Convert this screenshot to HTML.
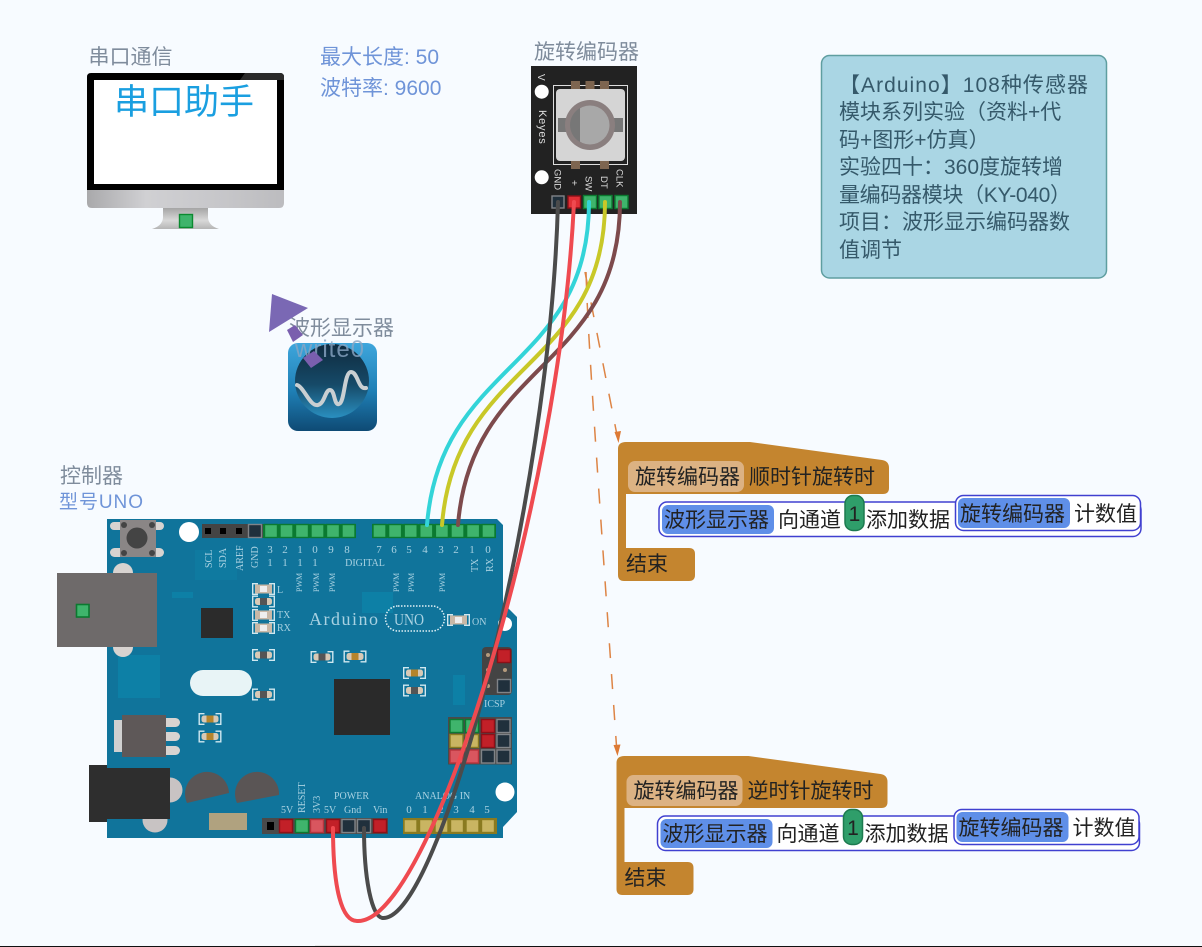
<!DOCTYPE html>
<html lang="zh"><head><meta charset="utf-8"><title>旋转编码器</title>
<style>
html,body{margin:0;padding:0;background:#f7fbff;width:1202px;height:947px;overflow:hidden}
svg{display:block}
text{font-family:"Liberation Sans","Noto Sans CJK SC",sans-serif}
.lb{font-size:21px;fill:#7f8c9c}
.bl{font-size:21px;fill:#6f94d8}
.bk{font-size:21px;fill:#222}
.info{font-size:21px;fill:#35596a}
.sf{font-family:"Liberation Serif","Noto Serif CJK SC",serif;fill:#a9d2e2;font-size:11px}
.pw{font-family:"Liberation Serif",serif;fill:#a9d2e2;font-size:10px}
.kt{font-size:10px;fill:#ddd}
</style></head><body>
<svg xmlns="http://www.w3.org/2000/svg" width="1202" height="947" viewBox="0 0 1202 947">
<defs>
<linearGradient id="silver" x1="0" x2="1" y1="0" y2="0"><stop offset="0" stop-color="#a9a9ab"/><stop offset=".3" stop-color="#d0d0d3"/><stop offset=".7" stop-color="#c6c6c9"/><stop offset="1" stop-color="#bcbcbf"/></linearGradient>
<linearGradient id="stand" x1="0" x2="0" y1="0" y2="1"><stop offset="0" stop-color="#a5a5a5"/><stop offset=".6" stop-color="#d8d8d8"/><stop offset="1" stop-color="#b5b5b5"/></linearGradient>
<linearGradient id="ico" x1="0" x2="0" y1="0" y2="1"><stop offset="0" stop-color="#3ea6dc"/><stop offset=".55" stop-color="#1f7fb5"/><stop offset="1" stop-color="#0e4a74"/></linearGradient>
<linearGradient id="scr" x1="0" x2="0" y1="0" y2="1"><stop offset="0" stop-color="#0f2a3e"/><stop offset=".55" stop-color="#164a68"/><stop offset="1" stop-color="#2a8fc0"/></linearGradient>
<g id="capB"><path d="M6 .7H.7V11.3H6M17 .7h5.3V11.3H17" fill="none" stroke="#cfe8f0" stroke-width="1.4"/><rect x="3" y="2.5" width="17" height="7" rx="2.5" fill="#d8c9b6"/><rect x="8" y="2.5" width="7" height="7" fill="#b5842c"/></g>
<g id="capD"><path d="M6 .7H.7V11.3H6M17 .7h5.3V11.3H17" fill="none" stroke="#cfe8f0" stroke-width="1.4"/><rect x="3" y="2.5" width="17" height="7" rx="2.5" fill="#d8c9b6"/><rect x="8" y="2.5" width="7" height="7" fill="#555"/></g>
<g id="capW"><path d="M6 .7H.7V11.3H6M17 .7h5.3V11.3H17" fill="none" stroke="#cfe8f0" stroke-width="1.4"/><rect x="3" y="1.5" width="17" height="9" fill="#c9b8a6"/><rect x="8" y="3" width="7" height="6" fill="#eee"/></g>
<rect id="pG" width="13" height="13" fill="#3fb46c" stroke="#0b7a30" stroke-width="1.4"/>
<rect id="pY" width="13" height="13" fill="#c9b562" stroke="#8a7a20" stroke-width="1.4"/>
<rect id="pR" width="13" height="13" fill="#c22028" stroke="#8c1018" stroke-width="1.4"/>
<rect id="pP" width="13" height="13" fill="#d9565f" stroke="#b8333c" stroke-width="1.4"/>
<rect id="pN" width="13" height="13" fill="#20303c" stroke="#808488" stroke-width="1.4"/>
<g id="hat"><path d="M626 442H750L882 460Q889 461 889 468V488Q889 494 883 494H626V548H689Q695 548 695 554V575Q695 581 689 581H624Q618 581 618 575V449Q618 442 626 442Z" fill="#c4852f"/>
<rect x="628" y="461" width="116" height="31" rx="7" fill="#dcb283"/>
<text class="bk" x="635" y="484">旋转编码器</text>
<text class="bk" x="626" y="571">结束</text>
<rect x="659" y="502" width="482" height="34.500" rx="8" fill="#fff" stroke="#4040d0" stroke-width="1.5"/>
<rect x="662" y="505" width="112" height="29" rx="6" fill="#5f8fe8"/>
<text class="bk" x="664" y="527">波形显示器</text>
<text class="bk" x="778" y="527">向通道</text>
<rect x="845" y="495.500" width="19" height="35" rx="8" fill="#2f9e6a" stroke="#1d7a4f" stroke-width="1.5"/>
<text class="bk" x="854.500" y="521" text-anchor="middle">1</text>
<text class="bk" x="866" y="527">添加数据</text>
<rect x="955.500" y="495.500" width="185" height="35" rx="8" fill="#fff" stroke="#4040d0" stroke-width="1.5"/>
<rect x="958" y="498" width="112" height="30" rx="6" fill="#5f8fe8"/>
<text class="bk" x="960" y="521">旋转编码器</text>
<text class="bk" x="1074" y="521">计数值</text></g>
</defs>
<rect width="1202" height="947" fill="#f7fbff"/>
<rect x="0" y="946" width="1202" height="1" fill="#111"/>
<rect x="315" y="945" width="45" height="1" fill="#e8e8e8"/>

<!-- monitor -->
<text class="lb" x="88.500" y="64">串口通信</text>
<text class="bl" x="320" y="64">最大长度: 50</text>
<text class="bl" x="320" y="95">波特率: 9600</text>
<path d="M163 208H208V218Q209 226 219 229H152Q162 226 163 218Z" fill="url(#stand)"/>
<path d="M87 190H284V203Q284 208 279 208H92Q87 208 87 203Z" fill="url(#silver)"/>
<path d="M91 73H280Q284 73 284 77V190H87V77Q87 73 91 73Z" fill="#000"/>
<path d="M245 73H280Q284 73 284 77V80H240Z" fill="#2a2a2a"/>
<rect x="94" y="80" width="183" height="104" fill="#fff"/>
<rect x="179.500" y="214.500" width="13" height="13" fill="#3fb46c" stroke="#0b8a30" stroke-width="1.4"/>
<text x="114" y="114" font-size="35" fill="#1a9fe0">串口助手</text>

<!-- rotary encoder -->
<text class="lb" x="534" y="59">旋转编码器</text>
<rect x="531" y="66" width="106" height="148" fill="#222"/>
<rect x="553.500" y="85.500" width="74" height="79" fill="none" stroke="#ddd" stroke-width="1"/>
<g fill="#7d6550"><rect x="571" y="81" width="9" height="9"/><rect x="585.500" y="81" width="9" height="9"/><rect x="600" y="81" width="9" height="9"/><rect x="571" y="160" width="9" height="9"/><rect x="600" y="160" width="9" height="9"/></g>
<rect x="556" y="89" width="69" height="72" rx="4" fill="#d5d5d5"/>
<rect x="558" y="118" width="65" height="14" fill="#777"/>
<circle cx="590" cy="125" r="25" fill="#8a7f7f"/>
<circle cx="590" cy="125" r="19.500" fill="#a8a8a8"/>
<path d="M580 108A19.500 19.500 0 0 0 580 142Z" fill="#777"/>
<circle cx="541.700" cy="91.700" r="7" fill="#fff"/><circle cx="541.700" cy="177.300" r="7" fill="#fff"/>
<text class="kt" transform="translate(538,74) rotate(90)">V</text>
<text class="kt" transform="translate(539,110) rotate(90)" style="font-size:11px" letter-spacing=".8">Keyes</text>
<text class="kt" transform="translate(554.500,169) rotate(90)" style="font-size:9.500px">GND</text>
<text class="kt" transform="translate(571,180) rotate(90)">+</text>
<text class="kt" transform="translate(585.500,176) rotate(90)" style="font-size:9.500px">SW</text>
<text class="kt" transform="translate(601,176) rotate(90)" style="font-size:9.500px">DT</text>
<text class="kt" transform="translate(616.500,169) rotate(90)" style="font-size:9.500px">CLK</text>
<rect x="552" y="196" width="12" height="12" fill="#20303c" stroke="#808488" stroke-width="1.4"/>
<rect x="568" y="196" width="12.500" height="12" fill="#e03036" stroke="#8c1018" stroke-width="1.4"/>
<use href="#pG" x="583.500" y="195.500"/><use href="#pG" x="599" y="195.500"/><use href="#pG" x="615" y="195.500"/>

<!-- scope icon -->
<text class="lb" x="289" y="335">波形显示器</text>
<rect x="288" y="343" width="89" height="88" rx="10" fill="url(#ico)"/>
<circle cx="332" cy="381" r="37" fill="url(#scr)"/>
<path d="M297 385C304 387 310 407 318 405C325 403 325 390 330 390C335 390 334 406 339 404C345 402 344 372 351 372C358 372 358 390 366 388" fill="none" stroke="#c9cfd2" stroke-width="4" stroke-linecap="round"/>
<text x="295" y="357" font-size="24" letter-spacing="1" fill="#8aa6c4" opacity=".8">write0</text>
<polygon points="272,294 308,308 269,332" fill="#7a68b4"/>
<polygon points="287,330 295,325 303,335 293,342" fill="#7a5fae"/>
<polygon points="303,358 314,351 323,360 311,368" fill="#7a5fae"/>

<!-- controller labels -->
<text class="lb" x="60" y="483">控制器</text>
<text x="59" y="508" font-size="19" fill="#6f94d8" textLength="84">型号UNO</text>

<!-- arduino board -->
<path d="M107 519H497L503 525V603L517 617V812L503 827V838H107Z" fill="#10749b"/>
<g fill="#0d80a6"><rect x="118" y="655" width="42" height="43"/><rect x="362" y="592" width="31" height="21"/><rect x="172" y="592" width="21" height="6"/><rect x="453" y="675" width="12" height="30"/><rect x="195" y="550" width="42" height="30" opacity=".5"/></g>
<rect x="113" y="563" width="20" height="94" rx="10" fill="#d8d3d0"/>
<!-- USB -->
<rect x="57" y="573" width="100" height="74" fill="#6e6a6a"/>
<rect x="76.500" y="604.500" width="12.500" height="12.500" fill="#3fb46c" stroke="#0b7a30" stroke-width="1.6"/>
<!-- reset -->
<rect x="110" y="522" width="54" height="8" rx="4" fill="#d8d3d0"/><rect x="110" y="548" width="54" height="9" rx="4.500" fill="#d8d3d0"/>
<rect x="120" y="520" width="36" height="37" fill="#8a8686"/>
<circle cx="137" cy="538" r="10.500" fill="#444"/>
<g fill="#444"><circle cx="124" cy="525" r="3"/><circle cx="152" cy="525" r="3"/><circle cx="124" cy="553" r="3"/><circle cx="152" cy="553" r="3"/></g>
<circle cx="189" cy="532" r="10" fill="#fff"/>
<!-- top headers -->
<rect x="202" y="524" width="154" height="14" fill="#444"/>
<rect x="205" y="528" width="6" height="6" fill="#000"/><rect x="220" y="528" width="6" height="6" fill="#000"/><rect x="236" y="528" width="6" height="6" fill="#000"/>
<use href="#pN" x="248.500" y="524.500"/>
<rect x="263" y="524" width="93" height="14" fill="#0b7a30"/>
<rect x="372" y="524" width="124" height="14" fill="#0b7a30"/>
<use href="#pG" x="264.500" y="524.500"/><use href="#pG" x="280" y="524.500"/><use href="#pG" x="295.500" y="524.500"/><use href="#pG" x="311" y="524.500"/><use href="#pG" x="326.500" y="524.500"/><use href="#pG" x="342" y="524.500"/>
<use href="#pG" x="373" y="524.500"/><use href="#pG" x="388.600" y="524.500"/><use href="#pG" x="404.200" y="524.500"/><use href="#pG" x="419.800" y="524.500"/><use href="#pG" x="435.400" y="524.500"/><use href="#pG" x="451" y="524.500"/><use href="#pG" x="466.600" y="524.500"/><use href="#pG" x="482" y="524.500"/>
<!-- top labels -->
<g text-anchor="middle">
<text class="sf" x="270" y="553">3</text><text class="sf" x="285" y="553">2</text><text class="sf" x="300" y="553">1</text><text class="sf" x="315" y="553">0</text><text class="sf" x="331" y="553">9</text><text class="sf" x="347" y="553">8</text>
<text class="sf" x="270" y="566">1</text><text class="sf" x="285" y="566">1</text><text class="sf" x="300" y="566">1</text><text class="sf" x="315" y="566">1</text>
<text class="sf" x="379" y="553">7</text><text class="sf" x="394" y="553">6</text><text class="sf" x="409" y="553">5</text><text class="sf" x="425" y="553">4</text><text class="sf" x="441" y="553">3</text><text class="sf" x="456" y="553">2</text><text class="sf" x="472" y="553">1</text><text class="sf" x="488" y="553">0</text>
<text class="sf" x="365" y="566" style="font-size:10px">DIGITAL</text>
</g>
<text class="pw" transform="translate(212,568) rotate(-90)">SCL</text>
<text class="pw" transform="translate(226,568) rotate(-90)">SDA</text>
<text class="pw" transform="translate(243,571) rotate(-90)">AREF</text>
<text class="pw" transform="translate(258,568) rotate(-90)">GND</text>
<text class="pw" transform="translate(478,572) rotate(-90)">TX</text>
<text class="pw" transform="translate(493,572) rotate(-90)">RX</text>
<text class="pw" transform="translate(302,592) rotate(-90)" style="font-size:8px">PWM</text><text class="pw" transform="translate(319,592) rotate(-90)" style="font-size:8px">PWM</text><text class="pw" transform="translate(335,592) rotate(-90)" style="font-size:8px">PWM</text><text class="pw" transform="translate(399,592) rotate(-90)" style="font-size:8px">PWM</text><text class="pw" transform="translate(414,592) rotate(-90)" style="font-size:8px">PWM</text><text class="pw" transform="translate(445,592) rotate(-90)" style="font-size:8px">PWM</text>
<text class="pw" x="277" y="593">L</text><text class="pw" x="277" y="618">TX</text><text class="pw" x="277" y="631">RX</text>
<text class="sf" x="309" y="625" style="font-size:18px" textLength="69">Arduino</text>
<rect x="385.500" y="606" width="59" height="25" rx="12.500" fill="none" stroke="#e0f0f5" stroke-width="1.500" stroke-dasharray="1.500 1.500"/>
<text class="sf" x="394" y="625" style="font-size:17px" textLength="30" lengthAdjust="spacingAndGlyphs">UNO</text>
<use href="#capW" x="447" y="614"/>
<text class="pw" x="472" y="625">ON</text>
<!-- small parts -->
<rect x="201" y="608" width="32" height="30" fill="#2b2b2b"/>
<use href="#capW" x="252" y="583"/><use href="#capD" x="252" y="595.500"/><use href="#capW" x="252" y="609"/><use href="#capW" x="252" y="622"/>
<use href="#capD" x="252" y="649"/><use href="#capD" x="310.500" y="651"/><use href="#capB" x="343.500" y="650.500"/><use href="#capB" x="403" y="667"/><use href="#capD" x="403" y="684.500"/><use href="#capD" x="252" y="688.500"/><use href="#capB" x="198.500" y="713"/><use href="#capB" x="198.500" y="730.500"/>
<rect x="190" y="670" width="62" height="26" rx="13" fill="#e8f4f6"/>
<rect x="334" y="679" width="56" height="56" fill="#2a2a2a"/>
<!-- regulator -->
<rect x="114" y="720" width="9" height="32" fill="#d0d0d0"/>
<rect x="160" y="718" width="20" height="9" rx="4.500" fill="#d8d3d0"/><rect x="160" y="732" width="20" height="9" rx="4.500" fill="#d8d3d0"/><rect x="160" y="746" width="20" height="9" rx="4.500" fill="#d8d3d0"/>
<rect x="122" y="715" width="44" height="42" fill="#5e5858"/>
<!-- jack -->
<circle cx="170" cy="790" r="12.500" fill="#c8c3c3"/><circle cx="155" cy="820" r="12.500" fill="#c8c3c3"/>
<rect x="89" y="765" width="18" height="57" fill="#2e2e2e"/><rect x="106" y="768" width="64" height="51" fill="#2e2e2e"/>
<path d="M187 803A22 22 0 1 1 229 793Z" fill="#5a5555"/>
<path d="M237 803A22 22 0 1 1 279 795Z" fill="#5a5555"/>
<rect x="209" y="813" width="38" height="17" fill="#b0a27f"/>
<!-- ICSP -->
<rect x="482" y="647" width="30" height="48" rx="4" fill="#444"/>
<use href="#pR" x="497.500" y="649.500"/><use href="#pN" x="497.500" y="679.500"/>
<g fill="#b59a7c"><circle cx="488" cy="655" r="2"/><circle cx="488" cy="670" r="2"/><circle cx="505" cy="670" r="2"/><circle cx="488" cy="686" r="2"/></g>
<text class="pw" x="484" y="707">ICSP</text>
<!-- matrix -->
<rect x="448" y="717" width="64" height="47.500" fill="#4a4a4a"/>
<use href="#pG" x="450" y="719.500"/><use href="#pG" x="465.500" y="719.500"/><use href="#pR" x="481.500" y="719.500"/><use href="#pN" x="497" y="719.500"/>
<use href="#pY" x="450" y="734.500"/><use href="#pY" x="465.500" y="734.500"/><use href="#pR" x="481.500" y="734.500"/><use href="#pN" x="497" y="734.500"/>
<use href="#pP" x="450" y="750"/><use href="#pP" x="465.500" y="750"/><use href="#pN" x="481.500" y="750"/><use href="#pN" x="497" y="750"/>
<circle cx="505" cy="792" r="9.500" fill="#fff"/>
<circle cx="505" cy="624" r="7" fill="#fff"/>
<!-- bottom headers -->
<rect x="262" y="818" width="126" height="16" fill="#4a4a4a"/>
<rect x="267" y="822" width="7" height="8" fill="#000"/>
<use href="#pR" x="279.500" y="819.500"/><use href="#pG" x="295.500" y="819.500"/><use href="#pP" x="310.500" y="819.500"/><use href="#pR" x="326.500" y="819.500"/><use href="#pN" x="342" y="819.500"/><use href="#pN" x="357.500" y="819.500"/><use href="#pR" x="373.500" y="819.500"/>
<rect x="403" y="818" width="94" height="16" fill="#8a7a20"/>
<use href="#pY" x="404" y="819.500"/><use href="#pY" x="419.500" y="819.500"/><use href="#pY" x="435" y="819.500"/><use href="#pY" x="450.500" y="819.500"/><use href="#pY" x="466" y="819.500"/><use href="#pY" x="481.500" y="819.500"/>
<text class="pw" x="334" y="799">POWER</text>
<text class="pw" x="415" y="799">ANALOG IN</text>
<text class="pw" x="281" y="813">5V</text>
<text class="pw" transform="translate(305,813) rotate(-90)">RESET</text>
<text class="pw" transform="translate(320,813) rotate(-90)">3V3</text>
<text class="pw" x="324" y="813">5V</text><text class="pw" x="344" y="813">Gnd</text><text class="pw" x="373" y="813">Vin</text>
<g text-anchor="middle"><text class="sf" x="409" y="813">0</text><text class="sf" x="425" y="813">1</text><text class="sf" x="441" y="813">2</text><text class="sf" x="456" y="813">3</text><text class="sf" x="472" y="813">4</text><text class="sf" x="487" y="813">5</text></g>

<!-- info box -->
<rect x="821.500" y="55.500" width="285" height="222.500" rx="8" fill="#aad6e4" stroke="#5f9ea0" stroke-width="1.500"/>
<text class="info" x="839" y="92" textLength="249">【Arduino】108种传感器</text>
<text class="info" x="839" y="119">模块系列实验（资料+代</text>
<text class="info" x="839" y="147">码+图形+仿真）</text>
<text class="info" x="839" y="174">实验四十：360度旋转增</text>
<text class="info" x="839" y="202" textLength="232">量编码器模块（KY-040）</text>
<text class="info" x="839" y="229">项目：波形显示编码器数</text>
<text class="info" x="839" y="257">值调节</text>

<!-- blocks -->
<use href="#hat"/>
<use href="#hat" transform="translate(-1.500,314)"/>
<text class="bk" x="749" y="484">顺时针旋转时</text>
<text class="bk" x="747.500" y="798">逆时针旋转时</text>

<!-- dashed connectors -->
<g fill="none" stroke="#dd8445" stroke-width="1.500" stroke-dasharray="15 16">
<path d="M585 272L617 435"/>
<path d="M586 272C588 340 596 450 616.500 746"/>
</g>
<polygon points="618.500,443 614.500,432 621,431" fill="#dd7a35"/>
<polygon points="617.500,756 613.500,745 620.500,744.500" fill="#dd7a35"/>

<!-- wires -->
<g fill="none" stroke-width="4" stroke-linecap="round">
<path d="M620 202C620 370 471 360 458 525" stroke="#7d4a4c"/>
<path d="M605 202C605 370 455 360 442 525" stroke="#c8c828"/>
<path d="M589 202C589 370 440 360 427 525" stroke="#33d4d8"/>
<path d="M558 202C550 500 440 920 383 918C372 918 364 880 364 828" stroke="#4b4b4b"/>
<path d="M574 202C560 500 430 925 357 921C342 921 333 890 333 828" stroke="#ef4a50"/>
</g>
</svg>
</body></html>
